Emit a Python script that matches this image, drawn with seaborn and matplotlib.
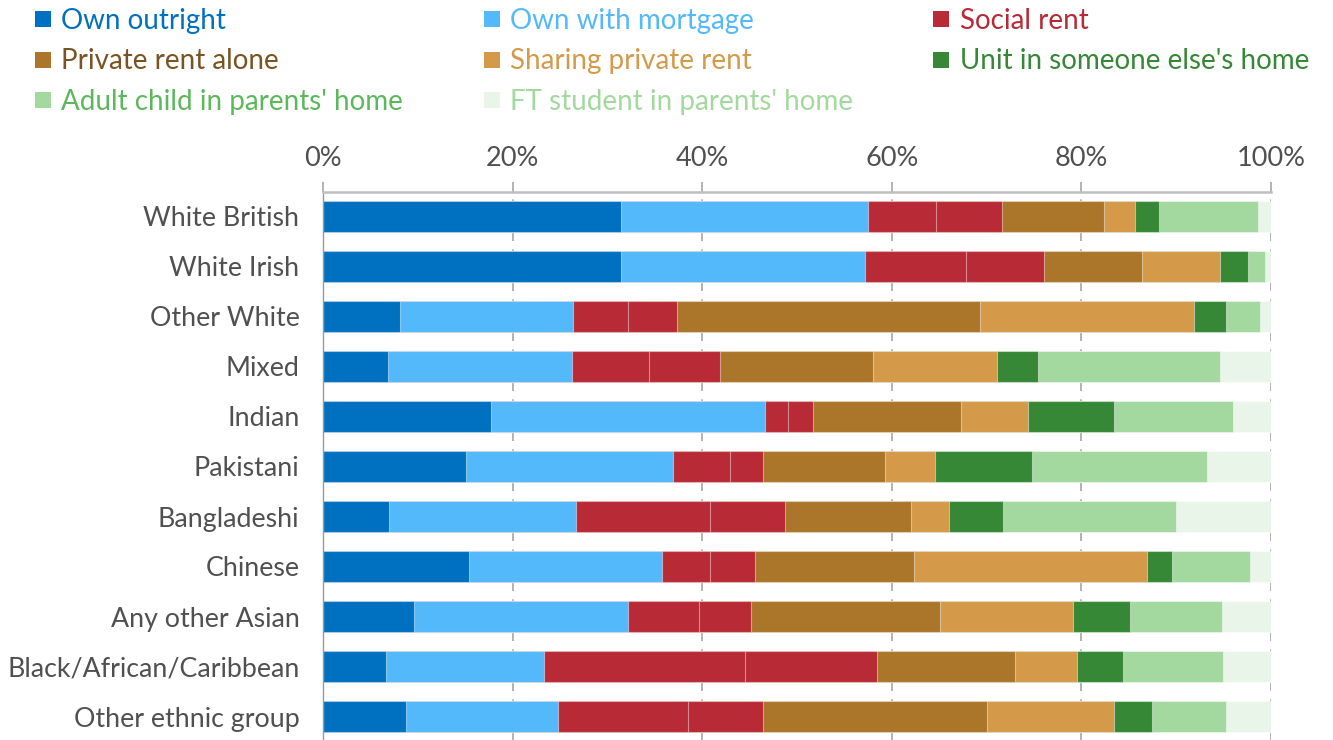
import pandas as pd
import matplotlib.pyplot as plt
import seaborn as sns
from matplotlib.lines import Line2D
from matplotlib.ticker import FuncFormatter

# Groups (top to bottom)
groups = ['White British', 'White Irish', 'Other White', 'Mixed', 'Indian', 'Pakistani',
          'Bangladeshi', 'Chinese', 'Any other Asian', 'Black/African/Caribbean',
          'Other ethnic group']

# Shares (%) of each housing situation
own_outright = [31.4, 31.4, 8.1, 6.9, 17.7, 15.1, 7.0, 15.4, 9.6, 6.6, 8.8]
own_mortgage = [26.1, 25.8, 18.3, 19.4, 28.9, 21.8, 19.7, 20.4, 22.6, 16.7, 16.0]
# social rent is shown as two sub-segments of the same colour
social_rent_a = [7.2, 10.6, 5.8, 8.1, 2.5, 6.0, 14.1, 5.0, 7.5, 21.2, 13.7]
social_rent_b = [6.9, 8.3, 5.1, 7.5, 2.6, 3.5, 7.9, 4.8, 5.5, 13.9, 7.9]
private_alone = [10.8, 10.3, 32.0, 16.1, 15.6, 12.9, 13.3, 16.7, 19.9, 14.6, 23.6]
sharing_private = [3.3, 8.2, 22.6, 13.1, 7.1, 5.3, 4.0, 24.6, 14.0, 6.5, 13.4]
unit_elsewhere = [2.5, 3.0, 3.4, 4.3, 9.0, 10.2, 5.7, 2.7, 6.0, 4.9, 4.0]
adult_child = [10.4, 1.8, 3.5, 19.2, 12.6, 18.5, 18.3, 8.2, 9.7, 10.5, 7.9]
ft_student = [1.4, 0.6, 1.2, 5.4, 4.0, 6.7, 10.0, 2.2, 5.2, 5.1, 4.7]

series = [
    ('Own outright', own_outright, '#0070C0', '#0070C0'),
    ('Own with mortgage', own_mortgage, '#53B9FA', '#53B9FA'),
    ('Social rent', social_rent_a, '#B82A36', '#B82A36'),
    (None, social_rent_b, '#B82A36', None),
    ('Private rent alone', private_alone, '#AB7629', '#7A5322'),
    ('Sharing private rent', sharing_private, '#D49A4A', '#D49A4A'),
    ("Unit in someone else's home", unit_elsewhere, '#368836', '#368836'),
    ("Adult child in parents' home", adult_child, '#A3D99F', '#5CB85C'),
    ("FT student in parents' home", ft_student, '#EAF5E9', '#A3D99F'),
]

# cumulative table for stacked bars
df = pd.DataFrame({'group': groups})
running = [0.0] * len(groups)
cum_cols = []
for i, (_, vals, _, _) in enumerate(series):
    running = [r + v for r, v in zip(running, vals)]
    df[f'c{i}'] = running
    cum_cols.append(f'c{i}')

sns.set_theme(style='white')
plt.rcParams['font.family'] = ['Lato', 'DejaVu Sans']

fig = plt.figure(figsize=(13.33, 7.4), dpi=100)
ax = fig.add_axes([323 / 1333, 1 - 741.5 / 740, 948 / 1333, 550 / 740])

# draw longest cumulative first so shorter ones sit on top
for i in reversed(range(len(series))):
    sns.barplot(data=df, x=cum_cols[i], y='group', color=series[i][2], saturation=1,
                width=0.62, edgecolor=(1, 1, 1, 0.45), linewidth=0.8,
                errorbar=None, orient='h', ax=ax)

ax.set_xlim(0, 100)
ax.set_ylim(len(groups) - 0.5, -0.5)
ax.set_xlabel('')
ax.set_ylabel('')

ax.xaxis.tick_top()
ax.set_xticks([0, 20, 40, 60, 80, 100])
ax.xaxis.set_major_formatter(FuncFormatter(lambda v, p: f'{v:.0f}%'))
ax.tick_params(axis='x', length=7, width=1.2, color='#A6A6A6', pad=8,
               labelsize=19.5, labelcolor='#505050')
ax.tick_params(axis='y', length=0, pad=17, labelsize=19.3, labelcolor='#505050')

ax.set_axisbelow(True)
ax.grid(axis='x', color='#A6A6A6', linestyle=(0, (5, 5)), linewidth=1.2)
ax.grid(axis='y', visible=False)

for s in ['right', 'bottom']:
    ax.spines[s].set_visible(False)
ax.spines['top'].set_color('#BFBFBF')
ax.spines['top'].set_linewidth(1.8)
ax.spines['left'].set_color('#999999')
ax.spines['left'].set_linewidth(1.0)

handles = []
labels = []
text_colors = []
for name, _, c, tc in series:
    if name is None:
        continue
    handles.append(Line2D([], [], marker='s', linestyle='', markersize=11.5,
                          markerfacecolor=c, markeredgewidth=0))
    labels.append(name)
    text_colors.append(tc)

# legend filled row by row in 3 columns
order = [0, 3, 6, 1, 4, 7, 2, 5]
leg = fig.legend([handles[k] for k in order], [labels[k] for k in order],
                 ncol=3, loc='upper left', bbox_to_anchor=(33 / 1333, 1 - 8 / 740),
                 frameon=False, fontsize=20, handlelength=0.7, handletextpad=0.3,
                 columnspacing=2.85, labelspacing=0.52, borderpad=0, borderaxespad=0)
for t, k in zip(leg.get_texts(), order):
    t.set_color(text_colors[k])

fig.savefig('out.png', dpi=100)
